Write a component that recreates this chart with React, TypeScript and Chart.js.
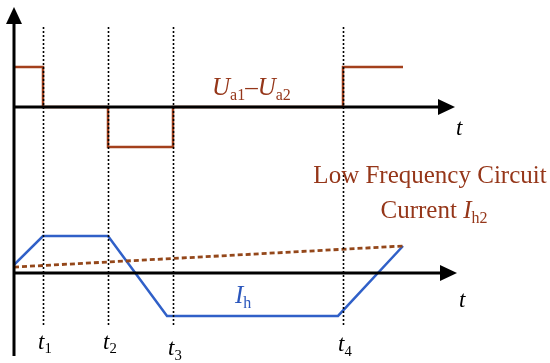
import React, { useEffect, useRef } from "react";
import { Chart, registerables } from "chart.js";

Chart.register(...registerables);

// ---- data (time in arbitrary units, amplitudes normalized) ----
const timeMarks = [2.9, 9.4, 15.9, 32.9]; // t1..t4
const timeMarkSubs = ["1", "2", "3", "4"];
const voltageT = [0, 2.9, 2.9, 9.4, 9.4, 15.9, 15.9, 32.9, 32.9, 38.9];
const voltageU = [1, 1, 0, 0, -1, -1, 0, 0, 1, 1];
const currentT = [0, 2.9, 9.4, 15.3, 32.4, 38.9];
const currentIh = [0.22, 1, 1, -1.16, -1.16, 0.73];
const lowFreqT = [0, 38.9];
const lowFreqIh2 = [0.16, 0.73];

const BROWN = "#a3401c";
const BROWN_TEXT = "#953619";
const BLUE = "#3060c8";
const BLUE_TEXT = "#2a56bc";
const SERIF = "'Liberation Serif', 'Times New Roman', serif";

type Part = { t: string; italic?: boolean; sub?: boolean };

function drawParts(ctx: CanvasRenderingContext2D, parts: Part[], x: number, y: number, size: number, color: string, align: "left" | "center" = "left") {
  const subSize = size * 0.64;
  const widths = parts.map((p) => {
    ctx.font = `${p.italic ? "italic " : ""}${p.sub ? subSize : size}px ${SERIF}`;
    return ctx.measureText(p.t).width;
  });
  const total = widths.reduce((a, b) => a + b, 0);
  let cx = align === "center" ? x - total / 2 : x;
  ctx.fillStyle = color;
  ctx.textBaseline = "alphabetic";
  ctx.textAlign = "left";
  parts.forEach((p, i) => {
    ctx.font = `${p.italic ? "italic " : ""}${p.sub ? subSize : size}px ${SERIF}`;
    ctx.fillText(p.t, cx, p.sub ? y + size * 0.2 : y);
    cx += widths[i];
  });
}

const diagramPlugin = {
  id: "diagram",
  afterDatasetsDraw(chart: any) {
    const ctx: CanvasRenderingContext2D = chart.ctx;
    const { x, y1, y2 } = chart.scales;
    const area = chart.chartArea;
    const x0 = x.getPixelForValue(0);
    const yU = y1.getPixelForValue(0);
    const yI = y2.getPixelForValue(0);
    ctx.save();

    // dotted time markers
    ctx.strokeStyle = "#000";
    ctx.lineWidth = 1.6;
    ctx.setLineDash([2, 2]);
    timeMarks.forEach((tm) => {
      const px = Math.round(x.getPixelForValue(tm)) + 0.5;
      ctx.beginPath();
      ctx.moveTo(px, area.top + 20);
      ctx.lineTo(px, area.bottom - 29);
      ctx.stroke();
    });
    ctx.setLineDash([]);

    // axes
    ctx.lineWidth = 3;
    ctx.strokeStyle = "#000";
    ctx.fillStyle = "#000";
    const arrowLen = 17;
    const arrowHalf = 8;
    // vertical
    ctx.beginPath();
    ctx.moveTo(x0, area.bottom);
    ctx.lineTo(x0, area.top + arrowLen - 2);
    ctx.stroke();
    ctx.beginPath();
    ctx.moveTo(x0, area.top);
    ctx.lineTo(x0 - arrowHalf, area.top + arrowLen);
    ctx.lineTo(x0 + arrowHalf, area.top + arrowLen);
    ctx.closePath();
    ctx.fill();
    // horizontal axes
    [yU, yI].forEach((yy, i) => {
      const tip = area.right + (i === 1 ? 2 : 0);
      ctx.beginPath();
      ctx.moveTo(x0 - 1, yy);
      ctx.lineTo(tip - arrowLen + 2, yy);
      ctx.stroke();
      ctx.beginPath();
      ctx.moveTo(tip, yy);
      ctx.lineTo(tip - arrowLen, yy - arrowHalf);
      ctx.lineTo(tip - arrowLen, yy + arrowHalf);
      ctx.closePath();
      ctx.fill();
    });

    // labels
    const tSize = 23;
    drawParts(ctx, [{ t: "t", italic: true }], x.getPixelForValue(44.2), y1.getPixelForValue(-0.7), tSize, "#000");
    drawParts(ctx, [{ t: "t", italic: true }], x.getPixelForValue(44.5), y2.getPixelForValue(-0.92), tSize, "#000");

    const tickY = [-2.05, -2.05, -2.22, -2.12];
    timeMarks.forEach((tm, i) => {
      const px = x.getPixelForValue(tm) - 5;
      drawParts(ctx, [{ t: "t", italic: true }, { t: timeMarkSubs[i], sub: true }], px, y2.getPixelForValue(tickY[i]), tSize, "#000");
    });

    drawParts(
      ctx,
      [{ t: "U", italic: true }, { t: "a1", sub: true }, { t: "\u2013" }, { t: "U", italic: true }, { t: "a2", sub: true }],
      x.getPixelForValue(19.8), y1.getPixelForValue(0.3), 25, BROWN_TEXT
    );
    drawParts(ctx, [{ t: "Low Frequency Circuit" }], x.getPixelForValue(41.6), y2.getPixelForValue(2.43), 25, BROWN_TEXT, "center");
    drawParts(ctx, [{ t: "Current " }, { t: "I", italic: true }, { t: "h2", sub: true }], x.getPixelForValue(42.0), y2.getPixelForValue(1.49), 25, BROWN_TEXT, "center");
    drawParts(ctx, [{ t: "I", italic: true }, { t: "h", sub: true }], x.getPixelForValue(22.1), y2.getPixelForValue(-0.81), 25, BLUE_TEXT);

    ctx.restore();
  },
};

export default function App() {
  const ref = useRef<HTMLCanvasElement>(null);
  useEffect(() => {
    if (!ref.current) return;
    const chart = new Chart(ref.current, {
      type: "scatter",
      data: {
        datasets: [
          {
            label: "Ua1-Ua2",
            data: voltageT.map((t, i) => ({ x: t, y: voltageU[i] })),
            yAxisID: "y1",
            showLine: true,
            borderColor: BROWN,
            borderWidth: 2.5,
            pointRadius: 0,
            tension: 0,
          },
          {
            label: "Ih2",
            data: lowFreqT.map((t, i) => ({ x: t, y: lowFreqIh2[i] })),
            yAxisID: "y2",
            showLine: true,
            borderColor: "#94471a",
            borderWidth: 2.8,
            borderDash: [5, 3],
            pointRadius: 0,
          },
          {
            label: "Ih",
            data: currentT.map((t, i) => ({ x: t, y: currentIh[i] })),
            yAxisID: "y2",
            showLine: true,
            borderColor: BLUE,
            borderWidth: 2.5,
            pointRadius: 0,
            tension: 0,
          },
        ],
      },
      options: {
        animation: false,
        responsive: true,
        maintainAspectRatio: false,
        layout: { padding: { left: 14, right: 95, top: 7, bottom: 7 } },
        plugins: { legend: { display: false }, tooltip: { enabled: false } },
        scales: {
          x: { type: "linear", min: 0, max: 44.1, display: false },
          y1: { type: "linear", min: -6.225, max: 2.5, display: false },
          y2: { type: "linear", min: -2.243, max: 7.189, display: false },
        },
      },
      plugins: [diagramPlugin],
    });
    return () => chart.destroy();
  }, []);
  return (
    <div style={{ position: "fixed", left: 0, top: 0, width: 550, height: 363, background: "#fff" }}>
      <canvas ref={ref} />
    </div>
  );
}
